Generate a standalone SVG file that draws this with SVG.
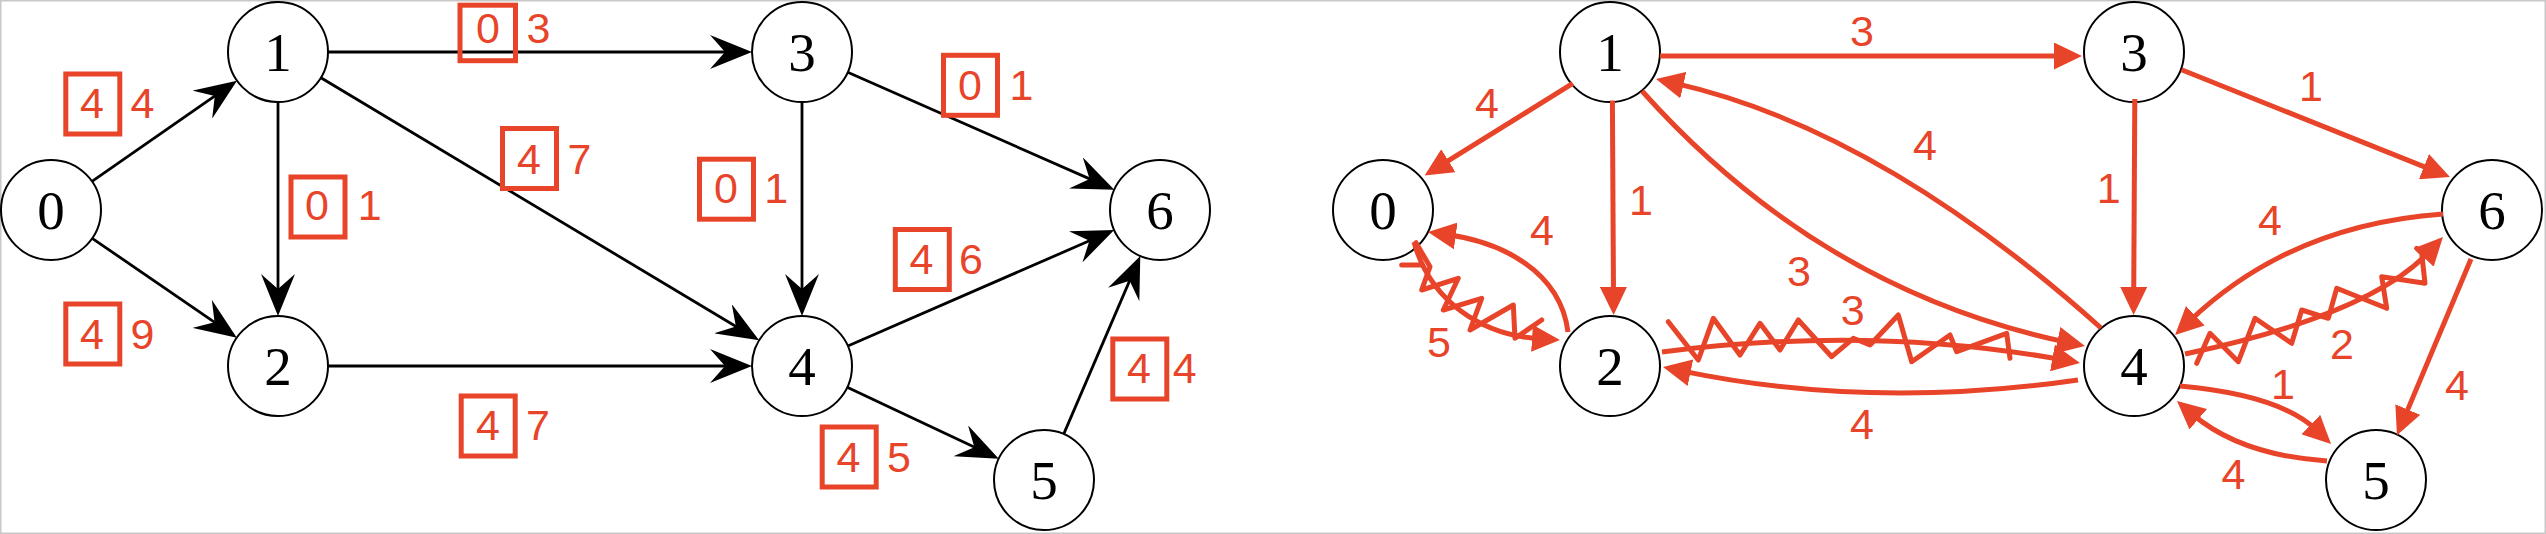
<svg xmlns="http://www.w3.org/2000/svg" width="2546" height="534" viewBox="0 0 2546 534">
<style>
.node circle{fill:#fff;stroke:#000;stroke-width:2}
.node text{font-family:"Liberation Serif","DejaVu Serif",serif;font-size:55px;text-anchor:middle;fill:#000}
.bk{fill:none;stroke:#000;stroke-width:2.8}
.rd{fill:none;stroke:#E8442A;stroke-width:5}
.sn{fill:none;stroke:#E8442A;stroke-width:5;stroke-linejoin:round;stroke-linecap:round}
.lb{font-family:"Liberation Sans","Arial",sans-serif;font-size:43px;fill:#E8442A}
.mid{text-anchor:middle}
.box{fill:none;stroke:#E8442A;stroke-width:5}
</style>
<defs>
<marker id="stealth" markerUnits="userSpaceOnUse" markerWidth="42" markerHeight="34" viewBox="0 0 42 34" refX="20" refY="17" orient="auto"><path d="M42,17 L0,0 L15,17 L0,34 z" fill="#000"/></marker>
<marker id="tri" markerUnits="userSpaceOnUse" markerWidth="28" markerHeight="27" viewBox="0 0 28 27" refX="8" refY="13.5" orient="auto"><path d="M0,0 L28,13.5 L0,27 z" fill="#E8442A"/></marker>
</defs>
<rect x="0.75" y="0.75" width="2544.5" height="532.5" fill="#fff" stroke="#c8c8c8" stroke-width="1.5"/>

<g id="left-nodes">
<g id="L0" class="node"><circle cx="51" cy="210" r="50"/><text x="51" y="229">0</text></g>
<g id="L1" class="node"><circle cx="278" cy="52" r="50"/><text x="278" y="71">1</text></g>
<g id="L2" class="node"><circle cx="278" cy="366" r="50"/><text x="278" y="385">2</text></g>
<g id="L3" class="node"><circle cx="802" cy="52" r="50"/><text x="802" y="71">3</text></g>
<g id="L4" class="node"><circle cx="802" cy="366" r="50"/><text x="802" y="385">4</text></g>
<g id="L5" class="node"><circle cx="1044" cy="480" r="50"/><text x="1044" y="499">5</text></g>
<g id="L6" class="node"><circle cx="1160" cy="210" r="50"/><text x="1160" y="229">6</text></g>
</g>

<g id="right-nodes">
<g id="R0" class="node"><circle cx="1383" cy="210" r="50"/><text x="1383" y="229">0</text></g>
<g id="R1" class="node"><circle cx="1610" cy="52" r="50"/><text x="1610" y="71">1</text></g>
<g id="R2" class="node"><circle cx="1610" cy="366" r="50"/><text x="1610" y="385">2</text></g>
<g id="R3" class="node"><circle cx="2134" cy="52" r="50"/><text x="2134" y="71">3</text></g>
<g id="R4" class="node"><circle cx="2134" cy="366" r="50"/><text x="2134" y="385">4</text></g>
<g id="R5" class="node"><circle cx="2376" cy="480" r="50"/><text x="2376" y="499">5</text></g>
<g id="R6" class="node"><circle cx="2492" cy="210" r="50"/><text x="2492" y="229">6</text></g>
</g>

<g id="connectors">
<g id="left-edges" marker-end="url(#stealth)">
<path class="bk" d="M92,181.4 L218.9,93.2"/>
<path class="bk" d="M92.2,238.3 L218.7,325.2"/>
<path class="bk" d="M278,102 L278,294"/>
<path class="bk" d="M328,52 L730,52"/>
<path class="bk" d="M320.9,77.7 L740.2,329"/>
<path class="bk" d="M328,366 L730,366"/>
<path class="bk" d="M802,102 L802,294"/>
<path class="bk" d="M847.7,72.2 L1094.2,180.9"/>
<path class="bk" d="M847.8,346 L1094,238.8"/>
<path class="bk" d="M847.2,387.3 L978.9,449.3"/>
<path class="bk" d="M1063.7,434.1 L1131.6,276.1"/>
</g>
<g id="right-edges" marker-end="url(#tri)">
<path class="rd" d="M1660,56 L2062,56"/>
<path class="rd" d="M2181.5,69.8 L2431.4,169.6"/>
<path class="rd" d="M1572.8,83.4 L1441.6,164.9"/>
<path class="rd" d="M1612.4,100.5 L1613.5,295"/>
<path class="rd" d="M2134.8,99 L2133.7,295"/>
<path class="rd" d="M2471,259 L2404.7,416.9"/>
<path class="rd" d="M1642,91 Q1820,290 2065.4,341.9"/>
<path class="rd" d="M2101,328 Q1880,130 1675.5,83.4"/>
<path class="rd" d="M2078,380 Q1870,410 1682.6,371.1"/>
<path class="rd" d="M1662,352 Q1870,325 2060.3,359.4"/>
<path class="rd" d="M1568,332 C1560,270 1500,242 1447.8,234.8"/>
<path class="rd" d="M1414,242 C1430,300 1480,335 1540,338.8"/>
<path class="rd" d="M2443,214 Q2290,225 2189.5,321.2"/>
<path class="rd" d="M2185,354 Q2370,315 2429.3,251.6"/>
<path class="rd" d="M2180,386 Q2280,395 2316.6,430.1"/>
<path class="rd" d="M2327,461 Q2240,455 2192.2,414"/>
</g>
<g id="snakes">
<polyline class="sn" points="1416,242.7 1430,266.7 1421.7,290 1458.3,278.3 1443.3,310 1481.7,298.3 1470,330 1513.3,305 1515,338.3 1541.7,320"/>
<line class="sn" x1="1401.7" y1="265" x2="1421.7" y2="265"/>
<polyline class="sn" points="1668.3,321.7 1698.3,360 1713.3,318.3 1740,355 1760,323.3 1780,350 1798.3,320 1831.7,356.7 1853.3,338.3 1870,345 1898.3,315 1911.7,361.7 1950,335 1956.7,351.7 2006.7,333.3 2010,358.3"/>
<polyline class="sn" points="2196.7,363.3 2210,333.3 2238.3,361.7 2255,318.3 2291.7,343.3 2301.7,310 2328.3,318.3 2336.7,288.3 2386.7,308.3 2381.7,276.7 2425,283.3 2421.7,253.3 2416.7,248.3"/>
</g>
</g>

<g id="left-labels">
<rect class="box" x="65.8" y="74" width="54" height="60"/><text class="lb mid" x="92" y="117.5">4</text><text class="lb" x="130.5" y="117.5">4</text>
<rect class="box" x="65.8" y="304" width="54" height="60"/><text class="lb mid" x="92" y="349">4</text><text class="lb" x="130.5" y="349">9</text>
<rect class="box" x="291" y="177" width="54" height="60"/><text class="lb mid" x="317" y="219.7">0</text><text class="lb" x="357.8" y="219.7">1</text>
<rect class="box" x="460" y="5.2" width="55.5" height="55.5"/><text class="lb mid" x="488" y="42.6">0</text><text class="lb" x="526.5" y="42.6">3</text>
<rect class="box" x="502.5" y="128.5" width="54" height="60"/><text class="lb mid" x="529" y="173.7">4</text><text class="lb" x="567.4" y="173.7">7</text>
<rect class="box" x="461.2" y="396" width="54" height="60"/><text class="lb mid" x="488" y="440">4</text><text class="lb" x="526" y="440">7</text>
<rect class="box" x="943.5" y="55.3" width="54" height="60"/><text class="lb mid" x="970" y="99.5">0</text><text class="lb" x="1009.5" y="99.5">1</text>
<rect class="box" x="699.5" y="159.2" width="54" height="60"/><text class="lb mid" x="726" y="202.7">0</text><text class="lb" x="764.3" y="202.7">1</text>
<rect class="box" x="895.3" y="229.5" width="54" height="60"/><text class="lb mid" x="921.5" y="274">4</text><text class="lb" x="959" y="274">6</text>
<rect class="box" x="1112.8" y="339" width="54" height="60"/><text class="lb mid" x="1139" y="383">4</text><text class="lb" x="1172.8" y="383">4</text>
<rect class="box" x="822.2" y="427" width="54" height="60"/><text class="lb mid" x="848.5" y="471.7">4</text><text class="lb" x="887" y="471.7">5</text>
</g>

<g id="right-labels" class="lb mid">
<text x="1862" y="46">3</text>
<text x="2311" y="100.5">1</text>
<text x="1487" y="117.5">4</text>
<text x="1641" y="214.6">1</text>
<text x="2108.6" y="202.7">1</text>
<text x="1925" y="160">4</text>
<text x="1799" y="286">3</text>
<text x="1852.6" y="325">3</text>
<text x="1862" y="439">4</text>
<text x="1542" y="245">4</text>
<text x="1439" y="357">5</text>
<text x="2270" y="235">4</text>
<text x="2342" y="358.5">2</text>
<text x="2457" y="400">4</text>
<text x="2283" y="398.5">1</text>
<text x="2233.5" y="488.8">4</text>
</g>
</svg>
